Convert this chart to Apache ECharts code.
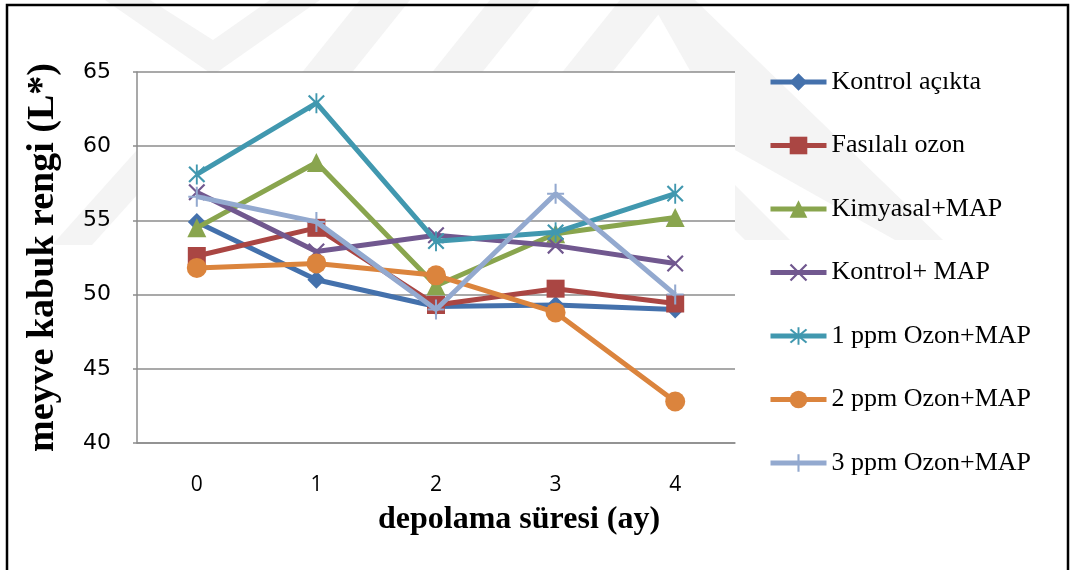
<!DOCTYPE html>
<html>
<head>
<meta charset="utf-8">
<script src="https://cdn.jsdelivr.net/npm/echarts@6/dist/echarts.min.js"></script>
<style>
  html, body { margin: 0; padding: 0; background: #fff; }
  #chart { width: 1074px; height: 570px; }
</style>
</head>
<body>
<div id="chart"></div>
<script>
// storage time in months
const months = ['0', '1', '2', '3', '4'];

// fruit peel colour L* per treatment
const kontrolAcikta = [54.9, 51.0, 49.2, 49.3, 49.0];
const fasilaliOzon  = [52.6, 54.5, 49.3, 50.4, 49.4];
const kimyasalMap   = [54.5, 58.9, 50.6, 54.1, 55.2];
const kontrolMap    = [56.9, 52.9, 54.0, 53.3, 52.1];
const ozon1Map      = [58.1, 62.9, 53.6, 54.2, 56.8];
const ozon2Map      = [51.8, 52.1, 51.3, 48.8, 42.8];
const ozon3Map      = [56.6, 54.9, 49.0, 56.8, 50.0];

const seriesNames = [
  'Kontrol açıkta', 'Fasılalı ozon', 'Kimyasal+MAP', 'Kontrol+ MAP',
  '1 ppm Ozon+MAP', '2 ppm Ozon+MAP', '3 ppm Ozon+MAP'
];

// marker outlines drawn as thin filled bars
const crossPath = 'path://M0,0.9L0.9,0L10,9.1L9.1,10Z M9.1,0L10,0.9L0.9,10L0,9.1Z';
const starPath  = 'path://M0,1.9L0.9,1L10,10.1L9.1,11Z M9.1,1L10,1.9L0.9,11L0,10.1Z M4.45,0L5.55,0L5.55,12L4.45,12Z';
const plusPath  = 'path://M4.4,0L5.6,0L5.6,12L4.4,12Z M0,5.4L10,5.4L10,6.6L0,6.6Z';

const styles = [
  { data: kontrolAcikta, color: '#4471AC', symbol: 'diamond',  size: 18 },
  { data: fasilaliOzon,  color: '#AA4643', symbol: 'rect',     size: 18 },
  { data: kimyasalMap,   color: '#89A54E', symbol: 'triangle', size: 19 },
  { data: kontrolMap,    color: '#71588F', symbol: crossPath,  size: [17, 17] },
  { data: ozon1Map,      color: '#4198AF', symbol: starPath,   size: [17, 20] },
  { data: ozon2Map,      color: '#DB843D', symbol: 'circle',   size: 20 },
  { data: ozon3Map,      color: '#93A9CF', symbol: plusPath,   size: [17, 20] }
];

const series = styles.map((s, i) => ({
  name: seriesNames[i],
  type: 'line',
  data: s.data,
  symbol: s.symbol,
  symbolSize: s.size,
  showAllSymbol: true,
  color: s.color,
  lineStyle: { color: s.color, width: 5 },
  itemStyle: { color: s.color, borderWidth: 0 },
  emphasis: { disabled: true },
  animation: false,
  z: 2 + i
}));

// faint background shapes
const shade = '#f4f4f4';
const watermark = [
  [[105, 0], [150, 0], [213, 40], [270, 0], [320, 0], [213, 75]],
  [[360, 0], [410, 0], [350, 75], [300, 75]],
  [[490, 0], [540, 0], [480, 75], [430, 75]],
  [[620, 0], [670, 0], [610, 75], [560, 75]],
  [[650, 0], [695, 0], [943, 240], [895, 240], [735, 150]],
  [[735, 185], [790, 240], [745, 240], [735, 230]],
  [[137, 150], [137, 195], [92, 245], [52, 245]]
].map(pts => ({
  type: 'polygon',
  shape: { points: pts },
  style: { fill: shade },
  silent: true,
  z: -10
}));

const chart = echarts.init(document.getElementById('chart'), null, { renderer: 'canvas' });
chart.setOption({
  backgroundColor: '#ffffff',
  animation: false,
  grid: {
    left: 137, right: 339, top: 72, bottom: 127,
    show: true, backgroundColor: '#ffffff', borderWidth: 0
  },
  legend: {
    orient: 'vertical',
    left: 768, top: 69,
    padding: 0,
    itemWidth: 56, itemHeight: 22, itemGap: 37.5,
    lineStyle: { width: 5 },
    textStyle: { fontFamily: '"Liberation Serif", serif', fontSize: 26, color: '#000', lineHeight: 26 },
    data: seriesNames
  },
  xAxis: {
    type: 'category',
    data: months,
    boundaryGap: true,
    axisLine: { show: true, lineStyle: { color: '#8c8c8c', width: 1.5 } },
    axisTick: { show: false },
    axisLabel: { margin: 32, fontFamily: '"Open Sans", sans-serif', fontSize: 21, color: '#000' }
  },
  yAxis: {
    type: 'value',
    min: 40, max: 65, interval: 5,
    name: 'meyve kabuk rengi (L*)',
    nameLocation: 'middle',
    nameGap: 75,
    nameTextStyle: { fontFamily: '"Liberation Serif", serif', fontWeight: 'bold', fontSize: 38, color: '#000' },
    axisLine: { show: true, lineStyle: { color: '#8c8c8c', width: 1.5 } },
    axisTick: { show: true, length: 4, lineStyle: { color: '#8c8c8c', width: 1.5 } },
    splitLine: { show: true, lineStyle: { color: '#8c8c8c', width: 1.5 } },
    axisLabel: { margin: 26, fontFamily: '"DejaVu Sans", sans-serif', fontSize: 22, color: '#000' }
  },
  graphic: watermark.concat([
    {
      type: 'text',
      left: 378, top: 504,
      style: { text: 'depolama süresi (ay)', font: 'bold 32px "Liberation Serif", serif', fill: '#000' },
      z: 10
    },
    {
      type: 'rect',
      shape: { x: 7, y: 5, width: 1061, height: 575 },
      style: { fill: null, stroke: '#000', lineWidth: 2.5 },
      silent: true,
      z: 10
    }
  ]),
  series: series
});
</script>
</body>
</html>
